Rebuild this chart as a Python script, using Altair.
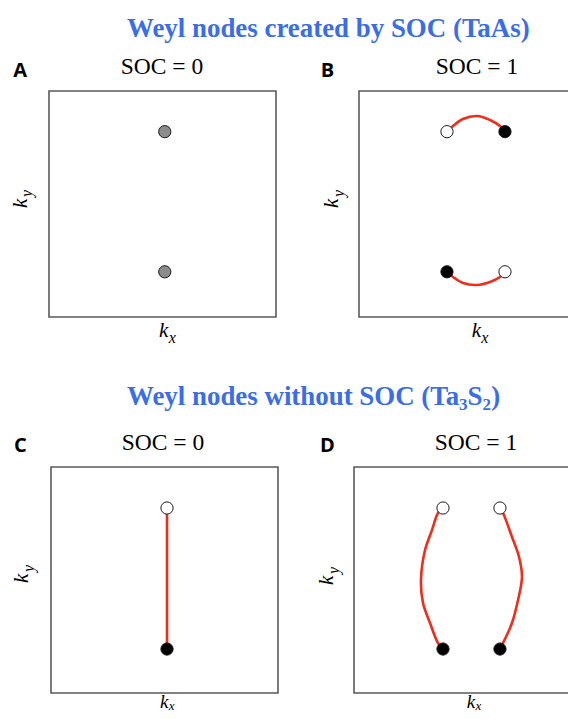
import altair as alt
import pandas as pd

# ---------------- data (in units of the Brillouin-zone box, -1 .. 1) ----------------
titles = ["Weyl nodes created by SOC (TaAs)", "Weyl nodes without SOC (Ta", "3", "S", "2", ")"]
panel_letters = ["A", "B", "C", "D"]
panel_titles = ["SOC = 0", "SOC = 1", "SOC = 0", "SOC = 1"]

# Panel A: two spin-degenerate nodes
a_kx = [0.02, 0.02]
a_ky = [0.64, -0.60]
a_kind = ["gray", "gray"]

# Panel B: SOC splits them into pairs connected by Fermi arcs
b_kx = [-0.225, 0.286, -0.225, 0.286]
b_ky = [0.64, 0.64, -0.60, -0.60]
b_kind = ["open", "filled", "filled", "open"]
b_arc_top_kx = [-0.225, -0.172, -0.084, 0.040, 0.154, 0.242, 0.286]
b_arc_top_ky = [0.64, 0.690, 0.752, 0.779, 0.743, 0.690, 0.64]
b_arc_bot_kx = [-0.225, -0.172, -0.084, 0.040, 0.154, 0.242, 0.286]
b_arc_bot_ky = [-0.60, -0.646, -0.699, -0.717, -0.690, -0.646, -0.60]

# Panel C: nodes without SOC, connected by one arc
c_kx = [0.022, 0.022]
c_ky = [0.637, -0.611]
c_kind = ["open", "filled"]
c_arc_kx = [0.022, 0.022]
c_arc_ky = [0.637, -0.611]

# Panel D: with SOC, two pairs
d_kx = [-0.216, 0.286, -0.216, 0.286]
d_ky = [0.637, 0.637, -0.611, -0.611]
d_kind = ["open", "open", "filled", "filled"]
d_arc_l_kx = [-0.216, -0.260, -0.313, -0.374, -0.410, -0.392, -0.330, -0.260, -0.216]
d_arc_l_ky = [0.637, 0.593, 0.442, 0.265, 0.000, -0.204, -0.381, -0.558, -0.611]
d_arc_r_kx = [0.286, 0.313, 0.392, 0.454, 0.480, 0.445, 0.392, 0.313, 0.286]
d_arc_r_ky = [0.637, 0.593, 0.381, 0.204, 0.027, -0.177, -0.381, -0.558, -0.611]

# ---------------- styles ----------------
BLUE = "#3a6de8"
RED = "#ee2d1a"
BOX = "#5a5a5a"
SERIF = "Liberation Serif, DejaVu Serif, serif"
SANS = "Open Sans, Liberation Sans, sans-serif"


def nodes_df(kx, ky, kind):
    return pd.DataFrame({"kx": kx, "ky": ky, "kind": kind})


def arcs_df(*arcs):
    rows = []
    for i, (kx, ky) in enumerate(arcs):
        for j, (x, y) in enumerate(zip(kx, ky)):
            rows.append({"arc": i, "order": j, "kx": x, "ky": y})
    return pd.DataFrame(rows)


def panel(nodes, arcs, xr, yr):
    xs = alt.Scale(domain=[-1, 1], range=xr, nice=False, zero=False)
    ys = alt.Scale(domain=[-1, 1], range=yr, nice=False, zero=False)
    box = alt.Chart(pd.DataFrame({"x0": [-1], "x1": [1], "y0": [-1], "y1": [1]})).mark_rect(
        fillOpacity=0, stroke=BOX, strokeWidth=1.6
    ).encode(
        x=alt.X("x0:Q", scale=xs, axis=None), x2="x1:Q",
        y=alt.Y("y0:Q", scale=ys, axis=None), y2="y1:Q",
    )
    layers = [box]
    if arcs is not None:
        layers.append(
            alt.Chart(arcs).mark_line(color=RED, strokeWidth=2.6, interpolate="catmull-rom").encode(
                x=alt.X("kx:Q", scale=xs, axis=None),
                y=alt.Y("ky:Q", scale=ys, axis=None),
                detail="arc:N",
                order="order:Q",
            )
        )
    layers.append(
        alt.Chart(nodes).mark_circle(size=150, opacity=1, stroke="#1a1a1a", strokeWidth=1).encode(
            x=alt.X("kx:Q", scale=xs, axis=None),
            y=alt.Y("ky:Q", scale=ys, axis=None),
            fill=alt.Fill(
                "kind:N",
                scale=alt.Scale(domain=["gray", "open", "filled"], range=["#8c8c8c", "#ffffff", "#000000"]),
                legend=None,
            ),
        )
    )
    return alt.layer(*layers)


def txt(s, x, y, size, font, color="black", weight="normal", style="normal", angle=0, align="left"):
    return alt.Chart(pd.DataFrame({"t": [s]})).mark_text(
        font=font, fontSize=size, color=color, fontWeight=weight, fontStyle=style,
        angle=angle, align=align, baseline="alphabetic",
    ).encode(text="t:N", x=alt.value(x), y=alt.value(y))


pA = panel(nodes_df(a_kx, a_ky, a_kind), None, [41, 268], [309, 83])
pB = panel(nodes_df(b_kx, b_ky, b_kind),
           arcs_df((b_arc_top_kx, b_arc_top_ky), (b_arc_bot_kx, b_arc_bot_ky)), [351, 578], [309, 83])
pC = panel(nodes_df(c_kx, c_ky, c_kind), arcs_df((c_arc_kx, c_arc_ky)), [43, 270], [685, 459])
pD = panel(nodes_df(d_kx, d_ky, d_kind),
           arcs_df((d_arc_l_kx, d_arc_l_ky), (d_arc_r_kx, d_arc_r_ky)), [346, 573], [685, 459])

T = 26.9
S = 17
texts = [
    txt(titles[0], 119, 29, T, SERIF, BLUE, "bold"),
    txt(titles[1], 119, 397, T, SERIF, BLUE, "bold"),
    txt(titles[2], 451, 402, S, SERIF, BLUE, "bold"),
    txt(titles[3], 459.6, 397, T, SERIF, BLUE, "bold"),
    txt(titles[4], 474.6, 402, S, SERIF, BLUE, "bold"),
    txt(titles[5], 483.2, 397, T, SERIF, BLUE, "bold"),
    # panel letters
    txt(panel_letters[0], 5.3, 68.7, 20, SANS, weight="bold"),
    txt(panel_letters[1], 312.7, 68.7, 20, SANS, weight="bold"),
    txt(panel_letters[2], 6, 443.7, 20, SANS, weight="bold"),
    txt(panel_letters[3], 312, 443.7, 20, SANS, weight="bold"),
    # panel titles
    txt(panel_titles[0], 154, 65.5, 23.5, SERIF, align="center"),
    txt(panel_titles[1], 469, 65.5, 23.5, SERIF, align="center"),
    txt(panel_titles[2], 155, 442, 23.5, SERIF, align="center"),
    txt(panel_titles[3], 468, 442, 23.5, SERIF, align="center"),
]

# axis labels k_x (below) and k_y (left, rotated)
kx_pos = [(151, 329, 21, 16, 6), (463.7, 329, 21, 16, 6), (152, 699.5, 19, 13, 2), (458.7, 699.5, 19, 13, 2)]
ky_pos = [(18.7, 200), (330.4, 200), (20.4, 575), (325.4, 577)]
for (x, y, fk, fs, dy) in kx_pos:
    texts.append(txt("k", x, y, fk, SERIF, style="italic"))
    texts.append(txt("x", x + fk * 0.46, y + dy, fs, SERIF, style="italic"))
for (x, y) in ky_pos:
    texts.append(txt("k", x, y, 21, SERIF, style="italic", angle=270))
    texts.append(txt("y", x + 5.5, y - 11, 16, SERIF, style="italic", angle=270))

chart = alt.layer(pA, pB, pC, pD, *texts).resolve_scale(
    x="independent", y="independent"
).properties(
    width=560, height=703, autosize=alt.AutoSizeParams(type="none"), padding=0, background="white"
).configure_view(strokeWidth=0)

chart.save("out.html", embed_options={"renderer": "svg", "actions": False})
